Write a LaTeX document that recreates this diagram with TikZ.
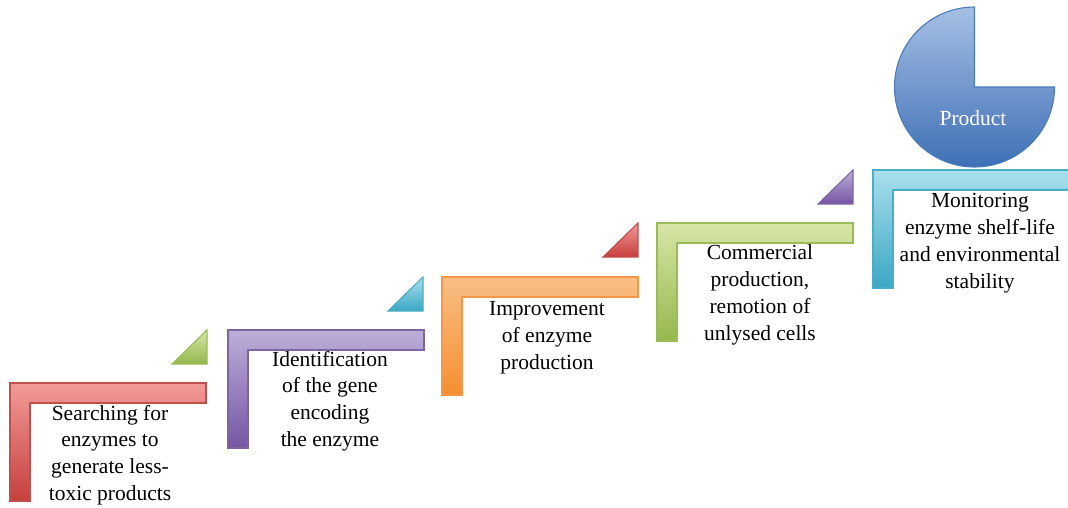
\documentclass[tikz,border=0pt]{standalone}
\usepackage{fontspec}
\setmainfont{Liberation Serif}
\begin{document}
\begin{tikzpicture}[x=1pt,y=-1pt,
  lab/.style={align=center,font=\fontsize{21.5}{26.8}\selectfont,inner sep=0pt,text=black},
  edge/.style={line width=1.1pt,line join=miter}]
\definecolor{redT}{HTML}{F29B99}\definecolor{redB}{HTML}{C63F3C}\definecolor{redL}{HTML}{C0504D}
\definecolor{purT}{HTML}{BCAED8}\definecolor{purB}{HTML}{7456A4}\definecolor{purL}{HTML}{8064A2}
\definecolor{oraT}{HTML}{F9BE85}\definecolor{oraB}{HTML}{F58F30}\definecolor{oraL}{HTML}{F79646}
\definecolor{greT}{HTML}{D8E6A8}\definecolor{greB}{HTML}{94B84C}\definecolor{greL}{HTML}{9BBB59}
\definecolor{cyaT}{HTML}{A9DFEC}\definecolor{cyaB}{HTML}{3BA7C4}\definecolor{cyaL}{HTML}{4BACC6}
\definecolor{bluT}{HTML}{A6C0E4}\definecolor{bluB}{HTML}{3E6FB6}\definecolor{bluL}{HTML}{4A7BBA}
\useasboundingbox (0,0) rectangle (1068,507);
% L shapes: #1 x, #2 y, #3 colour prefix
\newcommand{\Lstep}[3]{%
  \draw[edge,draw=#3L,top color=#3T,bottom color=#3B]
    (#1,#2) -- ++(196,0) -- ++(0,20) -- ++(-176,0) -- ++(0,98) -- ++(-20,0) -- cycle;}
% triangles: #1 right x, #2 top y, #3 colour prefix
\newcommand{\Tstep}[3]{%
  \draw[edge,draw=#3L,top color=#3T,bottom color=#3B]
    (#1,#2) -- ++(0,34) -- ++(-35,0) -- cycle;}
\Lstep{10}{383}{red}
\Lstep{228}{330}{pur}
\Lstep{442}{277}{ora}
\Lstep{657}{223}{gre}
\Lstep{873}{170}{cya}
\Tstep{207}{330}{gre}
\Tstep{423}{277}{cya}
\Tstep{638}{223}{red}
\Tstep{853}{170}{pur}
% pie
\draw[edge,draw=bluL,top color=bluT,bottom color=bluB]
  (974.5,87) -- (974.5,7) arc[start angle=-90,end angle=-360,radius=80] -- cycle;
\node[lab,text=white] (prod) at (973,118) {Product};
\node[lab] (t1) at (110,455) {Searching for\\enzymes to\\generate less-\\toxic products};
\node[lab] (t2) at (330,401) {Identification\\of the gene\\encoding\\the enzyme};
\node[lab] (t3) at (547,338) {Improvement\\of enzyme\\production};
\node[lab] (t4) at (760,295) {Commercial\\production,\\remotion of\\unlysed cells};
\node[lab] (t5) at (980,243) {Monitoring\\enzyme shelf-life\\and environmental\\stability};
\end{tikzpicture}
\end{document}
